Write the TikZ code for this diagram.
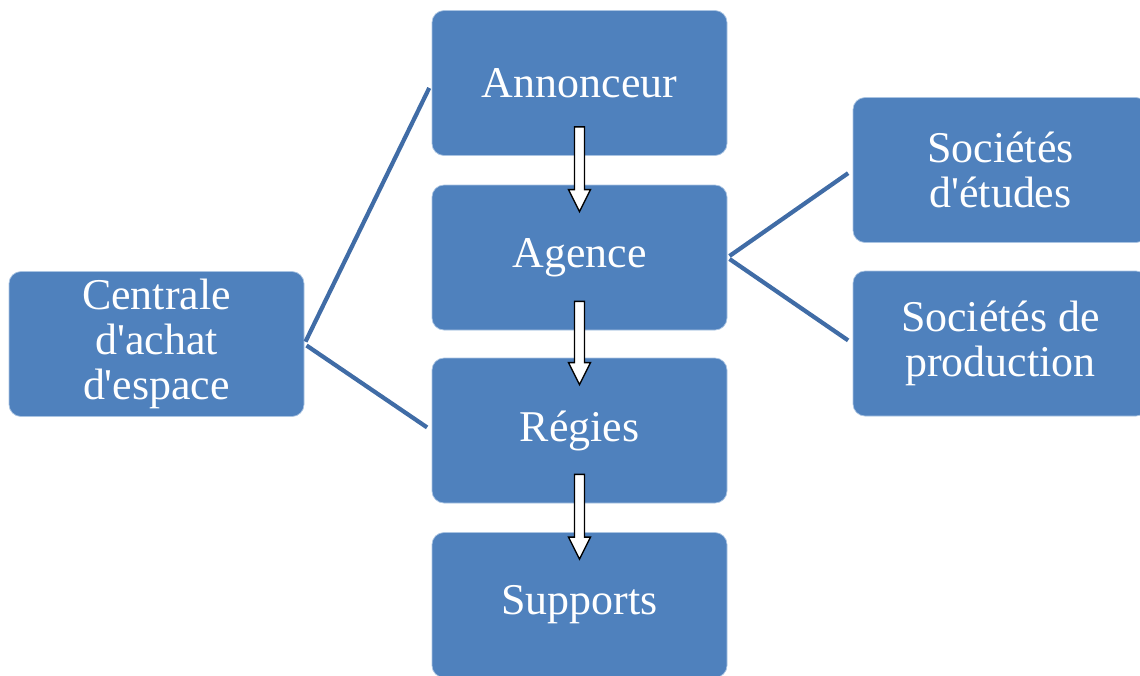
\documentclass[tikz,border=0pt]{standalone}
\usepackage{fontspec}
\setmainfont{Liberation Serif}
\usepackage{tikz}
\usetikzlibrary{calc}
\definecolor{BoxBlue}{RGB}{79, 129, 189}
\definecolor{EdgeBlue}{RGB}{170, 196, 226}
\definecolor{LinkBlue}{RGB}{64, 108, 166}

\begin{document}
\begin{tikzpicture}[
    box/.style={
      rectangle, rounded corners=0.24cm,
      draw=EdgeBlue, line width=0.4pt, fill=BoxBlue,
      minimum width=5.9cm, minimum height=2.9cm,
      text=white, align=center,
      font=\fontsize{25}{25.5}\selectfont
    },
    link/.style={line width=2.4pt, color=LinkBlue, shorten <=1.5pt, shorten >=0.11cm},
    hollow/.style={
      draw=black, fill=white, line width=0.8pt, line join=miter,
      to path={($(\tikztostart)+(-0.1,0.58)$) -- ($(\tikztostart)+(0.1,0.58)$)
        -- ($(\tikztotarget)+(0.1,-0.1)$) -- ($(\tikztotarget)+(0.22,-0.1)$)
        -- ($(\tikztotarget)+(0,-0.54)$) -- ($(\tikztotarget)+(-0.22,-0.1)$)
        -- ($(\tikztotarget)+(-0.1,-0.1)$) -- cycle}
    }
  ]
    \useasboundingbox (0,0) rectangle (22.8,-13.5);
    \clip (0,0) rectangle (22.8,-13.5);

    \node[box] (annonceur)  at (11.59,-1.66)  {Annonceur};
    \node[box] (agence)     at (11.59,-5.15)  {Agence};
    \node[box] (regies)     at (11.59,-8.61)  {Régies};
    \node[box] (supports)   at (11.59,-12.1)  {Supports};
    \node[box] (centrale)   at (3.13,-6.88)
      {Centrale\\d\textquotesingle achat\\d\textquotesingle espace};
    \node[box] (etudes)     at (20.01,-3.40)  {Sociétés\\d\textquotesingle études};
    \node[box] (production) at (20.01,-6.87)  {Sociétés de\\production};

    \draw[link] (centrale.east) -- (annonceur.west);
    \draw[link] (centrale.east) -- (regies.west);
    \draw[link] (agence.east)   -- (etudes.west);
    \draw[link] (agence.east)   -- (production.west);

    \draw[hollow] (annonceur.south) to (agence.north);
    \draw[hollow] (agence.south)    to (regies.north);
    \draw[hollow] (regies.south)    to (supports.north);
  \end{tikzpicture}
\end{document}
